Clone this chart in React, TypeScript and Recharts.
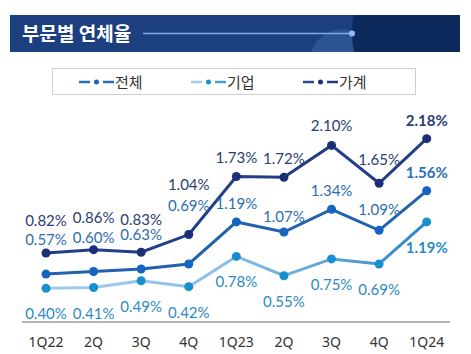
import { LineChart, Line, XAxis, YAxis, Legend } from "recharts";

const quarters = ["1Q22", "2Q", "3Q", "4Q", "1Q23", "2Q", "3Q", "4Q", "1Q24"];
const totalRate = [0.57, 0.6, 0.63, 0.69, 1.19, 1.07, 1.34, 1.09, 1.56];
const corporateRate = [0.4, 0.41, 0.49, 0.42, 0.78, 0.55, 0.75, 0.69, 1.19];
const householdRate = [0.82, 0.86, 0.83, 1.04, 1.73, 1.72, 2.1, 1.65, 2.18];

const data = quarters.map((q, i) => ({
    idx: i,
    total: totalRate[i],
    corporate: corporateRate[i],
    household: householdRate[i],
}));

// label baseline distance from the dot (text placement only)
const householdLift = [27, 27, 27, 45, 14, 13, 14, 18, 13];
const totalLift = [29, 29, 29, 53, 13, 10, 13, 15, 13];
const corporateDrop = 31;

const FONT = "'Noto Sans', 'Noto Sans CJK KR', sans-serif";
const LABEL_FONT = "Lato, 'Noto Sans', sans-serif";

const makeLabel =
    (color: string, offset: (i: number) => number) => (props: any) => {
        const { x, y, value, index } = props;
        const last = index === quarters.length - 1;
        return (
            <text
                key={`l-${color}-${index}`}
                x={x}
                y={y + offset(index)}
                textAnchor="middle"
                fill={color}
                fontSize={15}
                fontWeight={last ? 700 : 400}
                fontFamily={LABEL_FONT}
            >
                {value.toFixed(2)}%
            </text>
        );
    };

const legendItems = [
    { name: "전체", left: "#2a6db5", dot: "#1565c0", right: "#2a6db5" },
    { name: "기업", left: "#9fcdef", dot: "#1a8fd0", right: "#4f9bd5" },
    { name: "가계", left: "#2a4a95", dot: "#1b2f78", right: "#1f3a85" },
];

const renderLegend = () => (
    <div
        style={{
            display: "flex",
            boxSizing: "border-box",
            height: 27,
            border: "1px solid #cfcfcf",
            alignItems: "center",
            paddingLeft: 26,
            fontFamily: FONT,
        }}
    >
        {legendItems.map((item) => (
            <div
                key={item.name}
                style={{ display: "flex", alignItems: "center", width: 124.5 }}
            >
                <svg width={36} height={10}>
                    <line x1={0} x2={11} y1={5} y2={5} stroke={item.left} strokeWidth={2.5} />
                    <circle cx={17.5} cy={5} r={2.5} fill={item.dot} />
                    <line x1={24} x2={35} y1={5} y2={5} stroke={item.right} strokeWidth={2.5} />
                </svg>
                <span style={{ fontSize: 15, color: "#333", marginLeft: 0 }}>
                    {item.name}
                </span>
            </div>
        ))}
    </div>
);

function Banner() {
    return (
        <svg
            width={450}
            height={37}
            style={{ position: "absolute", left: 10, top: 15 }}
        >
            <defs>
                <clipPath id="bannerClip">
                    <rect x={0} y={0} width={450} height={37} />
                </clipPath>
            </defs>
            <g clipPath="url(#bannerClip)">
                <rect x={0} y={0} width={450} height={37} fill="#1b3f7f" />
                <circle cx={333} cy={48} r={34} fill="#2a5590" />
                <circle cx={430} cy={18} r={88} fill="#0e2a5d" />
            </g>
            <line x1={133} x2={342} y1={18.5} y2={18.5} stroke="#7fabe9" strokeWidth={1.5} />
            <circle cx={342} cy={18.5} r={3} fill="#8dbaf3" />
            <text
                x={12}
                y={26}
                fill="#ffffff"
                fontSize={19}
                fontWeight={700}
                fontFamily="'Noto Sans CJK KR', sans-serif"
            >
                부문별 연체율
            </text>
        </svg>
    );
}

export default function App() {
    return (
        <div
            style={{
                position: "absolute",
                left: 0,
                top: 0,
                width: 471,
                height: 354,
                background: "#ffffff",
                overflow: "hidden",
            }}
        >
            <LineChart
                width={471}
                height={354}
                data={data}
                margin={{ top: 111.75, right: 21, bottom: 2, left: 22 }}
            >
                <defs>
                    <linearGradient id="corpGrad" x1="0" y1="0" x2="1" y2="0">
                        <stop offset="0%" stopColor="#9fcdef" />
                        <stop offset="45%" stopColor="#8cc0e8" />
                        <stop offset="75%" stopColor="#5ea3da" />
                        <stop offset="100%" stopColor="#2a86c6" />
                    </linearGradient>
                </defs>
                <XAxis
                    dataKey="idx"
                    type="category"
                    height={30}
                    padding={{ left: 24, right: 23.3 }}
                    tickFormatter={(v: number) => quarters[v]}
                    axisLine={{ stroke: "#b5b5b5", strokeWidth: 2 }}
                    tickLine={false}
                    tickMargin={9}
                    tick={{ fontSize: 14, fill: "#333", fontFamily: FONT }}
                    interval={0}
                />
                <YAxis hide domain={[0, 2.5]} />
                <Legend
                    content={renderLegend}
                    layout="vertical"
                    align="center"
                    verticalAlign="middle"
                    wrapperStyle={{ position: "absolute", left: 52, top: 68, width: 364 }}
                />
                <Line
                    dataKey="corporate"
                    stroke="url(#corpGrad)"
                    strokeWidth={3}
                    dot={{ r: 4.5, fill: "#1a8fd0", stroke: "none" }}
                    activeDot={false}
                    isAnimationActive={false}
                    label={makeLabel("#2a8ac6", () => corporateDrop)}
                />
                <Line
                    dataKey="total"
                    stroke="#2262ad"
                    strokeWidth={3}
                    dot={{ r: 4.5, fill: "#1565c0", stroke: "none" }}
                    activeDot={false}
                    isAnimationActive={false}
                    label={makeLabel("#2b6db5", (i) => -totalLift[i])}
                />
                <Line
                    dataKey="household"
                    stroke="#213e86"
                    strokeWidth={3}
                    dot={{ r: 4.5, fill: "#1b2f78", stroke: "none" }}
                    activeDot={false}
                    isAnimationActive={false}
                    label={makeLabel("#2a3d72", (i) => -householdLift[i])}
                />
            </LineChart>
            <Banner />
        </div>
    );
}
